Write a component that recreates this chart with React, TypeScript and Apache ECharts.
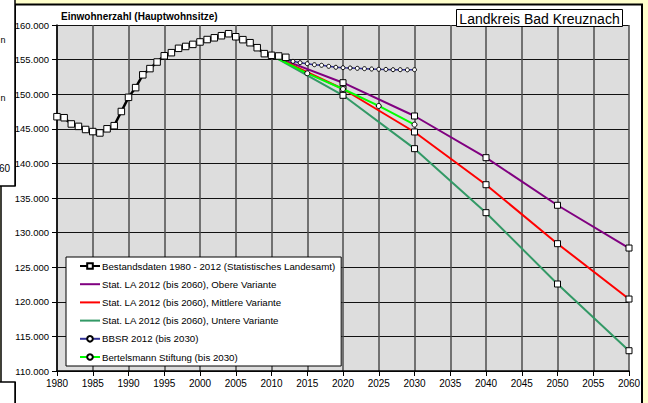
import React, { useEffect, useRef } from 'react';
import * as echarts from 'echarts';

const bestandYears = [1980, 1981, 1982, 1983, 1984, 1985, 1986, 1987, 1988, 1989, 1990, 1991, 1992, 1993, 1994, 1995, 1996, 1997, 1998, 1999, 2000, 2001, 2002, 2003, 2004, 2005, 2006, 2007, 2008, 2009, 2010, 2011, 2012];
const bestandValues = [146750, 146600, 145700, 145350, 144900, 144600, 144400, 145000, 145450, 147500, 149550, 150950, 152800, 153700, 154650, 155550, 156000, 156630, 156900, 157200, 157550, 157900, 158150, 158450, 158740, 158300, 157880, 157440, 156720, 155860, 155620, 155520, 155330];

const projYears = [2010, 2020, 2030, 2040, 2050, 2060];
const obereValues = [155620, 151660, 146850, 140830, 133950, 127770];
const mittlereValues = [155620, 150750, 144540, 136920, 128400, 120400];
const untereValues = [155620, 149840, 142130, 132880, 122570, 112930];

const bbsrYears = [2010, 2011, 2012, 2013, 2014, 2015, 2016, 2017, 2018, 2019, 2020, 2021, 2022, 2023, 2024, 2025, 2026, 2027, 2028, 2029, 2030];
const bbsrValues = [155500, 155300, 155040, 154750, 154550, 154410, 154260, 154180, 154030, 153890, 153830, 153790, 153740, 153690, 153640, 153600, 153580, 153540, 153540, 153520, 153540];

const bertYears = [2010, 2015, 2020, 2025, 2030];
const bertValues = [155620, 153020, 150750, 148300, 145600];

const xMin = 1980;
const xMax = 2060;
const xInterval = 5;
const yMin = 110000;
const yMax = 160000;
const yInterval = 5000;

const nameBestand = 'Bestandsdaten 1980 - 2012 (Statistisches Landesamt)';
const nameObere = 'Stat. LA 2012 (bis 2060), Obere Variante';
const nameMittlere = 'Stat. LA 2012 (bis 2060), Mittlere Variante';
const nameUntere = 'Stat. LA 2012 (bis 2060), Untere Variante';
const nameBBSR = 'BBSR 2012 (bis 2030)';
const nameBert = 'Bertelsmann Stiftung (bis 2030)';
const chartTitle = 'Einwohnerzahl (Hauptwohnsitze)';
const boxTitle = 'Landkreis Bad Kreuznach';

const FONT = "'Liberation Sans', Arial, sans-serif";

export default function App() {
  const ref = useRef<HTMLDivElement>(null);
  useEffect(() => {
    document.body.style.margin = '0';
    const chart = echarts.init(ref.current!, null, { renderer: 'svg' });
    const pair = (xs: number[], ys: number[]) => xs.map((x, i) => [x, ys[i]]);
    const proj = (name: string, values: number[], color: string) => ({
      name,
      type: 'line',
      data: projYears.map((y, i) =>
        i === 0 ? { value: [y, values[i]], symbol: 'none' } : { value: [y, values[i]] }
      ),
      symbol: 'rect',
      symbolSize: 6,
      showAllSymbol: true,
      lineStyle: { color, width: 2 },
      itemStyle: { color: '#ffffff', borderColor: '#000000', borderWidth: 1 },
      z: 3,
    });
    const linePath = 'path://M0,0L20,0L20,2L0,2Z';
    const option: any = {
      animation: false,
      backgroundColor: 'transparent',
      textStyle: { fontFamily: FONT },
      grid: {
        left: 57,
        right: 19,
        top: 25,
        bottom: 32,
        show: true,
        backgroundColor: '#DDDDDD',
        borderWidth: 0,
      },
      xAxis: {
        type: 'value',
        min: xMin,
        max: xMax,
        interval: xInterval,
        axisLine: { show: true, lineStyle: { color: '#000', width: 1.5 } },
        axisTick: { show: true, length: 5, lineStyle: { color: '#000', width: 1 } },
        axisLabel: {
          color: '#000',
          fontSize: 10,
          fontFamily: FONT,
          margin: 7,
          formatter: (v: number) => String(v),
        },
        splitLine: { show: true, lineStyle: { color: '#4d4d4d', width: 1.5 } },
      },
      yAxis: {
        type: 'value',
        min: yMin,
        max: yMax,
        interval: yInterval,
        axisLine: { show: true, lineStyle: { color: '#000', width: 1.5 } },
        axisTick: { show: true, length: 5, lineStyle: { color: '#000', width: 1 } },
        axisLabel: {
          color: '#000',
          fontSize: 9.5,
          fontFamily: FONT,
          margin: 8,
          formatter: (v: number) => (v / 1000).toFixed(3),
        },
        splitLine: { show: true, lineStyle: { color: '#111', width: 1.2 } },
      },
      legend: {
        orient: 'vertical',
        left: 66,
        top: 257,
        padding: [3, 6, 3, 13],
        itemWidth: 20,
        itemHeight: 7,
        itemGap: 6.2,
        selectedMode: false,
        backgroundColor: '#ffffff',
        borderColor: '#000000',
        borderWidth: 1,
        borderRadius: 0,
        textStyle: { fontSize: 9.7, fontFamily: FONT, color: '#000', lineHeight: 12, padding: [0, 0, 0, -3] },
        data: [
          { name: nameBestand },
          { name: nameObere, icon: linePath, itemStyle: { color: '#800080', borderWidth: 0 } },
          { name: nameMittlere, icon: linePath, itemStyle: { color: '#FF0000', borderWidth: 0 } },
          { name: nameUntere, icon: linePath, itemStyle: { color: '#339966', borderWidth: 0 } },
          { name: nameBBSR },
          { name: nameBert },
        ],
      },
      series: [
        {
          name: nameBestand,
          type: 'line',
          data: pair(bestandYears, bestandValues),
          symbol: 'rect',
          symbolSize: 6.5,
          showAllSymbol: true,
          lineStyle: { color: '#000000', width: 2.5 },
          itemStyle: { color: '#ffffff', borderColor: '#000000', borderWidth: 1 },
          z: 6,
        },
        proj(nameObere, obereValues, '#800080'),
        proj(nameMittlere, mittlereValues, '#FF0000'),
        proj(nameUntere, untereValues, '#339966'),
        {
          name: nameBBSR,
          type: 'line',
          data: pair(bbsrYears, bbsrValues),
          symbol: 'circle',
          symbolSize: 4,
          showAllSymbol: true,
          lineStyle: { color: '#333399', width: 1.5 },
          itemStyle: { color: '#ffffff', borderColor: '#000000', borderWidth: 1 },
          z: 4,
        },
        {
          name: nameBert,
          type: 'line',
          data: pair(bertYears, bertValues),
          symbol: 'circle',
          symbolSize: 5,
          showAllSymbol: true,
          lineStyle: { color: '#00FF00', width: 2 },
          itemStyle: { color: '#ffffff', borderColor: '#000000', borderWidth: 1 },
          z: 5,
        },
      ],
      graphic: [
        { type: 'rect', z: -10, silent: true, shape: { x: 15, y: 4.5, width: 627, height: 410 }, style: { fill: '#ffffff', stroke: '#000000', lineWidth: 2 } },
        { type: 'rect', z: -9, silent: true, shape: { x: 1, y: 186, width: 20, height: 196 }, style: { fill: '#ffffff' } },
        { type: 'line', z: -8, silent: true, shape: { x1: 1, y1: 186, x2: 1, y2: 382 }, style: { stroke: '#000000', lineWidth: 1.5 } },
        { type: 'rect', z: -8, silent: true, shape: { x: -2, y: -2, width: 17, height: 188 }, style: { fill: '#ffffff', stroke: '#000000', lineWidth: 1.5 } },
        { type: 'rect', z: -8, silent: true, shape: { x: -2, y: 382, width: 17, height: 30 }, style: { fill: '#ffffff', stroke: '#000000', lineWidth: 1.5 } },
        { type: 'text', z: -7, silent: true, x: 0.5, y: 39.5, style: { text: 'n', fontSize: 9, fontFamily: FONT, fill: '#000', align: 'left', verticalAlign: 'middle' } },
        { type: 'text', z: -7, silent: true, x: 0.5, y: 97.5, style: { text: 'n', fontSize: 9, fontFamily: FONT, fill: '#000', align: 'left', verticalAlign: 'middle' } },
        { type: 'text', z: -7, silent: true, x: 10, y: 168.5, style: { text: '60', fontSize: 10, fontFamily: FONT, fill: '#000', align: 'right', verticalAlign: 'middle' } },
        { type: 'text', z: 50, silent: true, x: 61, y: 16, style: { text: chartTitle, fontSize: 10, fontWeight: 'bold', fontFamily: FONT, fill: '#000', align: 'left', verticalAlign: 'middle' } },
        { type: 'rect', z: 100, silent: true, shape: { x: 456.5, y: 9.5, width: 166, height: 17 }, style: { fill: '#ffffff', stroke: '#000000', lineWidth: 1 } },
        { type: 'text', z: 101, silent: true, x: 539.5, y: 18.5, style: { text: boxTitle, fontSize: 14, fontFamily: FONT, fill: '#000', align: 'center', verticalAlign: 'middle' } },
      ],
    };
    chart.setOption(option);
    return () => chart.dispose();
  }, []);
  return (
    <div
      ref={ref}
      style={{ position: 'absolute', left: 0, top: 0, width: 648, height: 403, background: '#FFFFCC', overflow: 'hidden' }}
    />
  );
}
